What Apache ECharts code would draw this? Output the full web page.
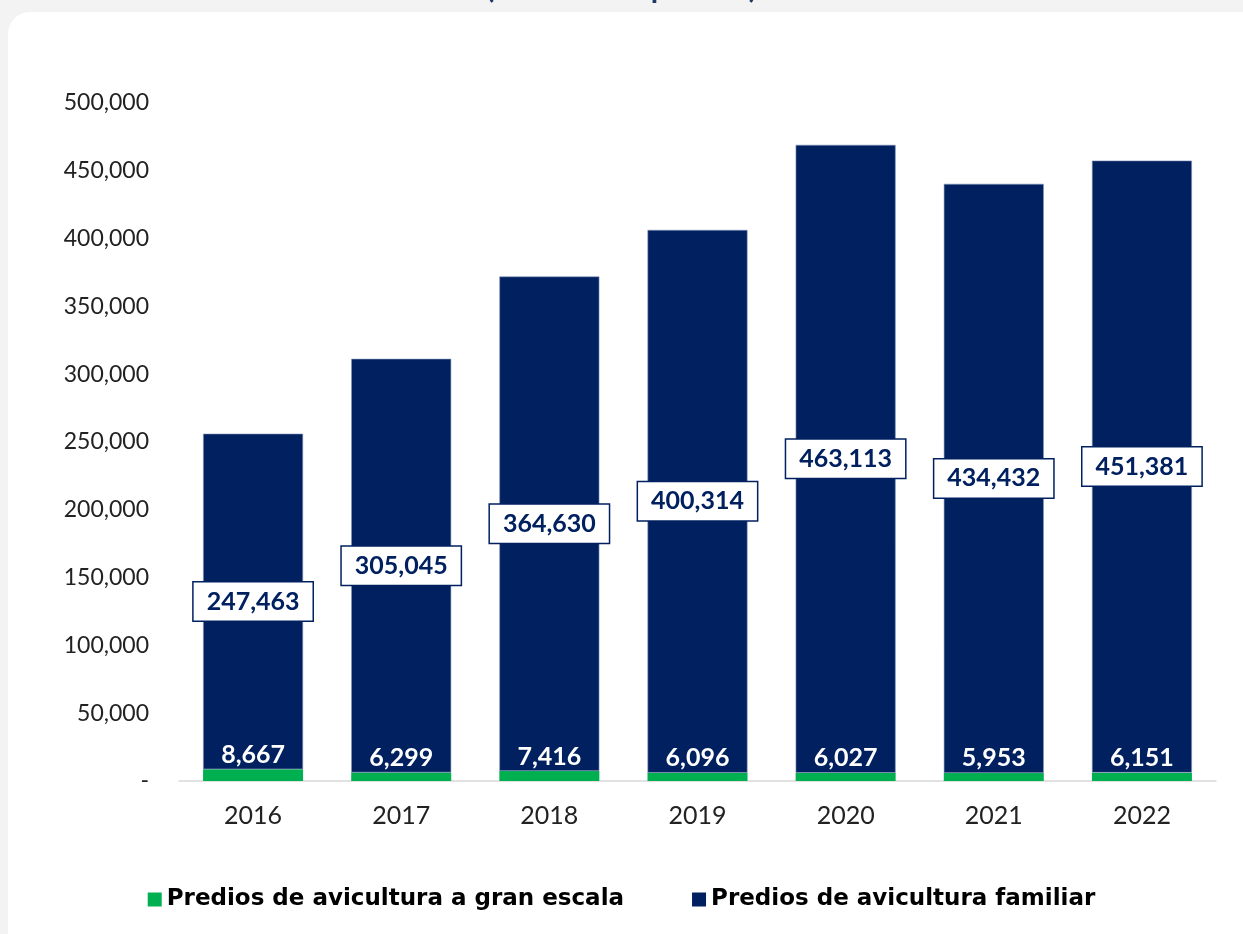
<!DOCTYPE html>
<html><head><meta charset="utf-8">
<script src="https://cdn.jsdelivr.net/npm/echarts@6/dist/echarts.min.js"></script>
<style>html,body{margin:0;padding:0;background:#f3f3f3;}#c{width:1243px;height:934px;}</style>
</head><body><div id="c"></div>
<script>
const years = ['2016','2017','2018','2019','2020','2021','2022'];
const granEscala = [8667, 6299, 7416, 6096, 6027, 5953, 6151];
const familiar = [247463, 305045, 364630, 400314, 463113, 434432, 451381];
const yTicks = {min: 0, max: 500000, interval: 50000};
const seriesNames = ['Predios de avicultura a gran escala', 'Predios de avicultura familiar'];
const titleText = '(Número de predios)';

const fmt = v => v === 0 ? '-' : v.toLocaleString('en-US');
const chart = echarts.init(document.getElementById('c'), null, {renderer: 'canvas'});
chart.setOption({
  backgroundColor: '#f3f3f3',
  animation: false,
  graphic: [{
    type: 'rect', z: -10, left: 8, top: 12,
    shape: {width: 1260, height: 960, r: 22},
    style: {fill: '#ffffff'}
  }],
  title: {
    text: titleText, left: 'center', top: -32,
    textStyle: {fontFamily: 'Lato', fontWeight: 'bold', fontSize: 30, color: '#1f3864'}
  },
  grid: {left: 179, right: 27, top: 103, bottom: 153},
  legend: {
    bottom: 18, left: 'center', itemGap: 68, itemWidth: 14, itemHeight: 14, icon: 'rect',
    itemStyle: {borderWidth: 0},
    textStyle: {fontFamily: 'DejaVu Sans', fontWeight: 'bold', fontSize: 23, color: '#000'},
    data: seriesNames
  },
  xAxis: {
    type: 'category', data: years,
    axisLine: {lineStyle: {color: '#d9d9d9', width: 1.5}},
    axisTick: {show: false},
    axisLabel: {fontFamily: 'Lato', fontSize: 25, color: '#222', margin: 22}
  },
  yAxis: {
    type: 'value', min: yTicks.min, max: yTicks.max, interval: yTicks.interval,
    splitLine: {show: false}, axisLine: {show: false}, axisTick: {show: false},
    axisLabel: {fontFamily: 'Lato', fontSize: 23, color: '#222', margin: 30, formatter: fmt}
  },
  series: [{
    name: seriesNames[0], type: 'bar', stack: 't', data: granEscala, barWidth: 100,
    itemStyle: {color: '#00b050'},
    label: {show: true, position: 'top', distance: 2, color: '#fff', fontFamily: 'Lato', fontWeight: 'bold', fontSize: 25,
      formatter: p => fmt(p.value)}
  }, {
    name: seriesNames[1], type: 'bar', stack: 't', data: familiar, barWidth: 100,
    itemStyle: {color: '#002060', borderColor: '#8496b8', borderWidth: 0.6},
    label: {show: true, position: 'inside', color: '#002060', fontFamily: 'Lato', fontWeight: 'bold', fontSize: 25,
      backgroundColor: '#fff', borderColor: '#002060', borderWidth: 1.5, padding: [7, 13, 6, 13],
      formatter: p => fmt(p.value)}
  }]
});
</script></body></html>
